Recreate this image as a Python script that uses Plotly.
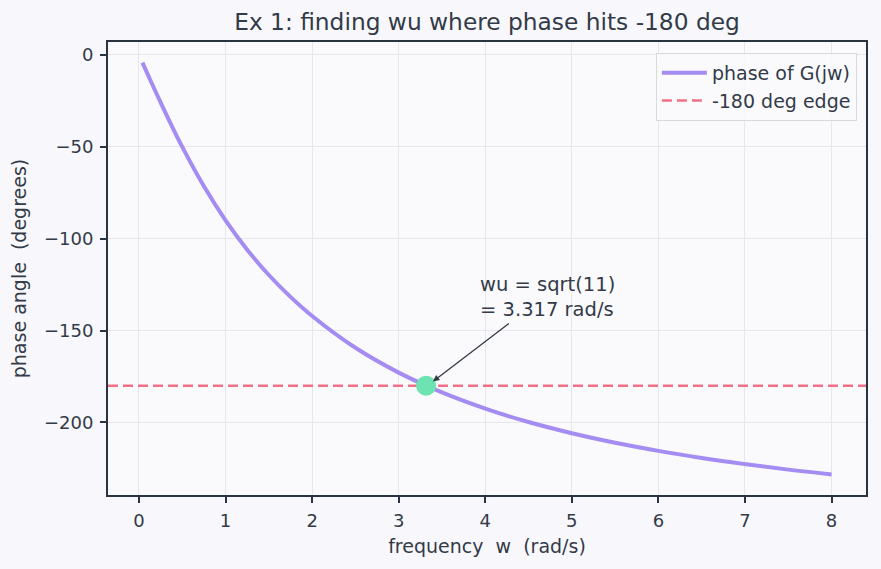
import plotly.graph_objects as go

# frequencies (rad/s) and phase values (degrees)
freq = [0.04, 0.1, 0.25, 0.5, 0.75, 1.0, 1.25, 1.5, 1.75, 2.0, 2.5, 3.0, 3.5,
        4.0, 4.5, 5.0, 5.5, 6.0, 6.5, 7.0, 7.5, 8.0]
phase = [-4.2, -10.5, -25.9, -50.1, -71.5, -90.0, -106.0, -119.8, -131.7, -142.1,
         -159.4, -172.9, -183.7, -192.5, -199.8, -205.9, -211.1, -215.5, -219.4,
         -222.7, -225.7, -228.3]
edge_level = -180
wu = 3.317
x_ticks = [0, 1, 2, 3, 4, 5, 6, 7, 8]
y_ticks = [0, -50, -100, -150, -200]

FONT = "DejaVu Sans, Verdana, sans-serif"
TXT = "#333a48"
FRAME = "#2a3342"
NB = "\u00a0"

fig = go.Figure()
fig.add_trace(go.Scatter(x=freq, y=phase, mode="lines", name="phase of G(jw)",
                         line=dict(color="#a48cf2", width=4, shape="spline")))
fig.add_trace(go.Scatter(x=[-0.358, 8.398], y=[edge_level, edge_level], mode="lines",
                         name="-180 deg edge",
                         line=dict(color="#f07186", width=2.5, dash="10px,5px")))
fig.add_trace(go.Scatter(x=[wu], y=[edge_level], mode="markers", showlegend=False,
                         marker=dict(color="#6ee3b2", size=20)))

fig.add_annotation(x=3.395, y=-177.7, ax=4.29, ay=-145.6, axref="x", ayref="y",
                   xref="x", yref="y", text="", showarrow=True, arrowhead=2,
                   arrowsize=1, arrowwidth=1.3, arrowcolor="#333a44")
fig.add_annotation(x=3.92, y=-131.5, xref="x", yref="y",
                   text="wu = sqrt(11)<br>= 3.317 rad/s", showarrow=False,
                   xanchor="left", yanchor="middle", align="left",
                   font=dict(family=FONT, size=19.5, color=TXT))

axis_common = dict(showline=True, linecolor=FRAME, linewidth=2, mirror=True,
                   ticks="outside", ticklen=6, tickwidth=1.5, tickcolor=FRAME,
                   showgrid=True, gridcolor="#e6e6ec", gridwidth=1, zeroline=False,
                   tickfont=dict(family=FONT, size=18, color=TXT))

fig.update_xaxes(range=[-0.358, 8.398], tickvals=x_ticks, ticklabelstandoff=2,
                 title=dict(text=f"frequency {NB}w {NB}(rad/s)",
                            font=dict(family=FONT, size=19, color=TXT), standoff=10),
                 **axis_common)
fig.update_yaxes(range=[-239.5, 7.0], tickvals=y_ticks, ticklabelstandoff=3,
                 ticktext=[str(v).replace("-", "\u2212") for v in y_ticks],
                 title=dict(text=f"phase angle {NB}(degrees)",
                            font=dict(family=FONT, size=19, color=TXT), standoff=12),
                 **axis_common)

fig.update_layout(
    width=881, height=569,
    margin=dict(l=108, r=15, t=42, b=74),
    paper_bgcolor="#f8f8fc", plot_bgcolor="#fafafd",
    title=dict(text="Ex 1: finding wu where phase hits -180 deg", x=0.5528, xanchor="center",
               y=0.961, yanchor="middle", font=dict(family=FONT, size=23.3, color=TXT)),
    legend=dict(x=0.988, y=0.976, xanchor="right", yanchor="top",
                bgcolor="rgba(250,250,253,0.9)", bordercolor="#d8d8de", borderwidth=1,
                font=dict(family=FONT, size=19, color=TXT), itemwidth=45,
                tracegroupgap=0),
    showlegend=True,
)

fig.write_html("out.html")
